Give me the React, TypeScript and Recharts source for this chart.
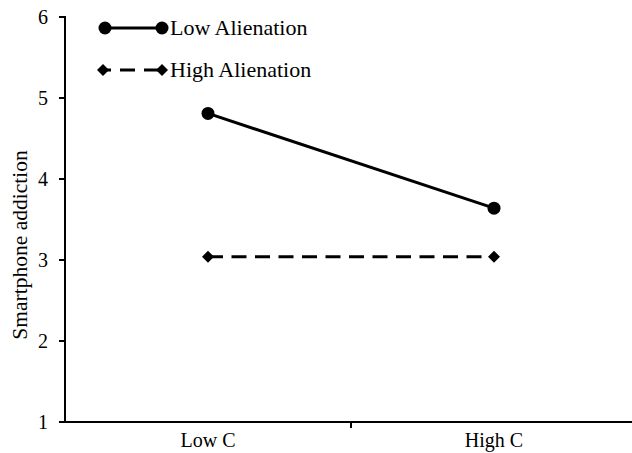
import { LineChart, Line, XAxis, YAxis } from 'recharts';

const categories = ['Low C', 'High C'];
const lowAlienation = [4.81, 3.64];
const highAlienation = [3.04, 3.04];
const yTicks = [1, 2, 3, 4, 5, 6];

const FONT = '"Liberation Serif", "Times New Roman", serif';

const data = categories.map((c, i) => ({
  cat: c,
  low: lowAlienation[i],
  high: highAlienation[i],
}));

const Diamond = (props: any) => {
  const { cx, cy } = props;
  const r = 6;
  if (cx == null || cy == null) return null;
  return <path d={`M${cx} ${cy - r}L${cx + r} ${cy}L${cx} ${cy + r}L${cx - r} ${cy}Z`} fill="#000" />;
};

const YTick = (props: any) => {
  const { x, y, payload } = props;
  return (
    <g>
      <line x1={x + 11} x2={x + 18} y1={y} y2={y} stroke="#000" strokeWidth={2} />
      <text x={x} y={y} textAnchor="end" dominantBaseline="central" fontFamily={FONT} fontSize={20} fill="#000">
        {payload.value}
      </text>
    </g>
  );
};

const XTick = (props: any) => {
  const { x, y, payload, index } = props;
  const half = payload.offset ? payload.offset : 143;
  return (
    <g>
      {index === 1 && (
        <line x1={x - half} x2={x - half} y1={y - 2} y2={y - 9} stroke="#000" strokeWidth={2} />
      )}
      <text x={x} y={y + 10} textAnchor="middle" dominantBaseline="central" fontFamily={FONT} fontSize={20} fill="#000">
        {payload.value}
      </text>
    </g>
  );
};

const LegendBox = () => (
  <div style={{ position: 'absolute', left: 96, top: 8, fontFamily: FONT, fontSize: 22, color: '#000', lineHeight: 1 }}>
    <div style={{ display: 'flex', alignItems: 'center', height: 40 }}>
      <svg width={74} height={20}>
        <line x1={9} x2={66} y1={10} y2={10} stroke="#000" strokeWidth={3} />
        <circle cx={9} cy={10} r={6.5} fill="#000" />
        <circle cx={66} cy={10} r={6.5} fill="#000" />
      </svg>
      <span>Low Alienation</span>
    </div>
    <div style={{ display: 'flex', alignItems: 'center', height: 43 }}>
      <svg width={74} height={20}>
        <line x1={9} x2={66} y1={10} y2={10} stroke="#000" strokeWidth={3} strokeDasharray="6 9 15 9 15" />
        <Diamond cx={7} cy={10} />
        <Diamond cx={66} cy={10} />
      </svg>
      <span>High Alienation</span>
    </div>
  </div>
);

export default function App() {
  return (
    <div style={{ position: 'absolute', left: 0, top: 0, width: 632, height: 453, overflow: 'hidden', background: '#fff' }}>
      <LineChart width={640} height={453} data={data} margin={{ top: 17, right: 3, left: 0, bottom: 0 }}>
        <XAxis
          dataKey="cat"
          scale="band"
          axisLine={{ stroke: '#000', strokeWidth: 2 }}
          tickLine={false}
          tick={<XTick />}
          height={31}
          interval={0}
        />
        <YAxis
          domain={[1, 6]}
          ticks={yTicks}
          width={65}
          axisLine={{ stroke: '#000', strokeWidth: 2 }}
          tickLine={false}
          tickMargin={11}
          tick={<YTick />}
          label={{
            content: () => (
              <text
                x={20}
                y={245}
                transform="rotate(-90 20 245)"
                textAnchor="middle"
                dominantBaseline="central"
                fontFamily={FONT}
                fontSize={21.5}
                fill="#000"
              >
                Smartphone addiction
              </text>
            ),
          }}
        />
        <Line
          dataKey="low"
          name="Low Alienation"
          stroke="#000"
          strokeWidth={3}
          dot={{ r: 6.5, fill: '#000', stroke: '#000', strokeWidth: 0 }}
          activeDot={false}
          isAnimationActive={false}
        />
        <Line
          dataKey="high"
          name="High Alienation"
          stroke="#000"
          strokeWidth={3}
          strokeDasharray="15 8.5"
          dot={<Diamond />}
          activeDot={false}
          isAnimationActive={false}
        />
      </LineChart>
      <LegendBox />
    </div>
  );
}
